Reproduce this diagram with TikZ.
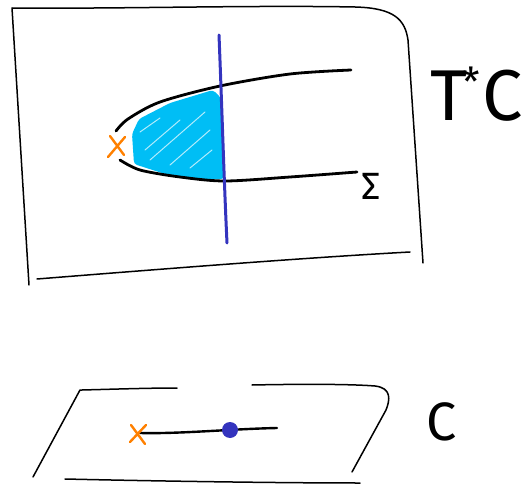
\documentclass[tikz,border=0pt]{standalone}
\usepackage{fontspec}
\setmainfont{Fira Sans}
\definecolor{inkblue}{RGB}{52,52,190}
\definecolor{skyfill}{RGB}{0,190,245}
\definecolor{xorange}{RGB}{255,128,0}
\tikzset{
  frame/.style={line width=1.5pt, line cap=round, line join=round, black},
  branch/.style={line width=2.8pt, line cap=round, line join=round, black},
  wall/.style={line width=3pt, line cap=round, inkblue},
  cross/.style={line width=2.4pt, line cap=round, xorange},
  hatch/.style={line width=1pt, white!70!skyfill, line cap=round},
  lbl/.style={inner sep=0pt, font=\fontsize{72}{72}\selectfont}
}
\begin{document}
\begin{tikzpicture}[x=1pt,y=-1pt]
\useasboundingbox (0,0) rectangle (528,487);
% top frame (T*C)
\draw[frame] (29,285) -- (12,8) .. controls (120,9) and (250,5) .. (355,7) .. controls (395,8) and (405,20) .. (408,40) -- (423,263);
\draw[frame] (37,279) .. controls (150,270) and (300,258) .. (410,252);
% shaded region
\fill[skyfill, rounded corners=3pt] (132,134) -- (139,119) -- (170,103) -- (213,90) -- (221,98) -- (224,179) -- (200,179) -- (165,174) -- (134,164) -- cycle;
\draw[hatch] (145,150) -- (180,120);
\draw[hatch] (150,160) -- (205,112);
\draw[hatch] (170,165) -- (210,130);
\draw[hatch] (140,132) -- (160,118);
\draw[hatch] (190,168) -- (212,150);
% Sigma branches
\draw[branch] plot[smooth] coordinates {(116,131) (128,119) (160,102) (220,86) (290,74) (351,70)};
\draw[branch] plot[smooth] coordinates {(120,160) (140,170) (180,177) (225,181) (290,177) (357,172)};
% blue line
\draw[wall] (219,35) .. controls (222,110) and (224,180) .. (227,243);
% orange cross
\draw[cross] (110,136) -- (124,155) (125,137) -- (108,157);
% labels
\node[lbl, anchor=west] (tstar) at (430,94) {T\kern-5pt\raisebox{24pt}{\fontsize{40}{40}\selectfont *}\kern3pt C};
\node[inner sep=0pt, font=\fontsize{38}{38}\selectfont] (sigma) at (371,186) {Σ};
% bottom plane C
\draw[frame] (33,477) -- (80,390) -- (82,390) .. controls (120,389) and (150,388) .. (177,388);
\draw[frame] (252,385) .. controls (300,384) and (350,384) .. (375,386) .. controls (392,388) and (390,400) .. (386,410) -- (352,472);
\draw[frame] (65,479) .. controls (150,481) and (280,483) .. (360,483);
\coordinate (lstart) at (140,433);
\coordinate (lend) at (277,428);
\draw[branch, line width=2.4pt] (lstart) .. controls (180,434) and (230,429) .. (lend);
\node[circle, fill=inkblue, minimum size=16pt, inner sep=0pt] (dot) at (230,430) {};
\draw[cross] (131,425) -- (145,444) (146,425) -- (130,442);
\node[inner sep=0pt, font=\fontsize{54}{54}\selectfont] (cbase) at (442,422) {C};
\end{tikzpicture}
\end{document}
